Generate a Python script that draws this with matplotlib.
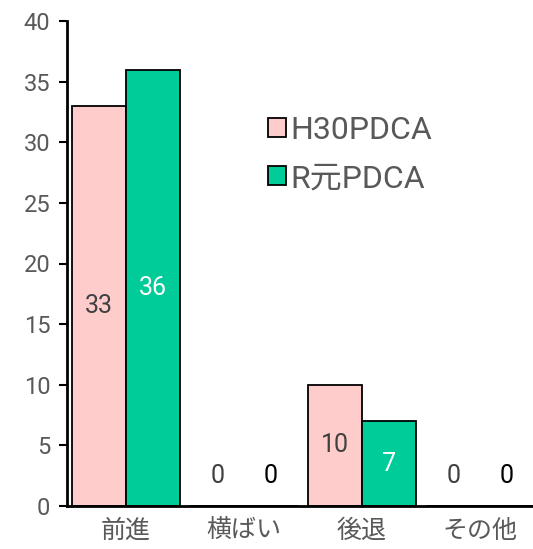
import matplotlib
matplotlib.use("Agg")
import matplotlib.pyplot as plt
import numpy as np

categories = ["前進", "横ばい", "後退", "その他"]
series_names = ["H30PDCA", "R元PDCA"]
h30_values = [33, 0, 10, 0]
r1_values = [36, 0, 7, 0]
y_ticks = [0, 5, 10, 15, 20, 25, 30, 35, 40]

plt.rcParams['font.family'] = ['Roboto', 'Noto Sans CJK JP', 'DejaVu Sans']

fig = plt.figure(figsize=(5.33, 5.49), dpi=100)
W, H = 533, 549
ax = fig.add_axes([67 / W, 1 - 506 / H, (539 - 67) / W, (506 - 21) / H])

x = np.arange(len(categories))
bw = 0.455
gray = "#595959"
b1 = ax.bar(x - bw / 2, h30_values, bw, color="#FFCCCC", edgecolor="black", linewidth=1.3, label=series_names[0])
b2 = ax.bar(x + bw / 2, r1_values, bw, color="#00CC99", edgecolor="black", linewidth=1.3, label=series_names[1])

lab_fs = 18
for xi, v in zip(x, h30_values):
    if v > 0:
        ax.text(xi - bw / 2, v / 2, str(v), ha="center", va="center", fontsize=lab_fs, color="#404040")
    else:
        ax.text(xi - bw / 2, 2.5, str(v), ha="center", va="center", fontsize=lab_fs, color="#404040")
for xi, v in zip(x, r1_values):
    if v > 0:
        ax.text(xi + bw / 2, v / 2, str(v), ha="center", va="center", fontsize=lab_fs, color="white")
    else:
        ax.text(xi + bw / 2, 2.5, str(v), ha="center", va="center", fontsize=lab_fs, color="black")

ax.set_xlim(-0.5, 3.5)
ax.set_ylim(0, 40)
ax.set_yticks(y_ticks)
ax.set_yticklabels([str(t) for t in y_ticks], fontsize=17, color=gray)
ax.set_xticks(x)
ax.set_xticklabels(categories, fontsize=18, color=gray)
ax.tick_params(axis="x", length=0, pad=9)
ax.tick_params(axis="y", length=6, width=1.5, direction="out", pad=6, color="black")
for s in ["top", "right"]:
    ax.spines[s].set_visible(False)
ax.spines["left"].set_linewidth(2)
ax.spines["bottom"].set_linewidth(2)

leg = fig.legend(handles=[b1, b2], labels=series_names, loc="upper left",
                 bbox_to_anchor=(268 / W, 1 - 116 / H), bbox_transform=fig.transFigure,
                 frameon=False, fontsize=23, borderpad=0, borderaxespad=0,
                 handlelength=0.55, handleheight=0.55, handletextpad=0.15, labelspacing=0.6,
                 labelcolor=gray)

fig.savefig("out.png", dpi=100)
